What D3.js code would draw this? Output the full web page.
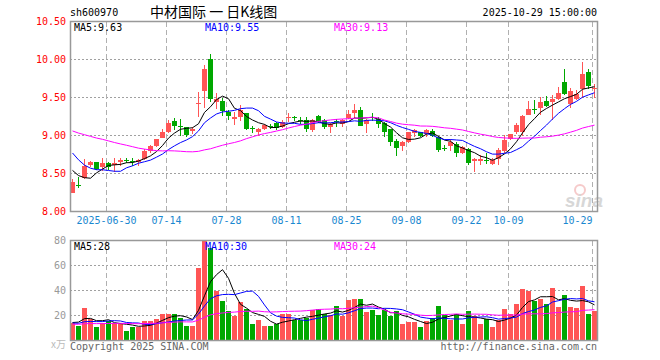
<!DOCTYPE html>
<html><head><meta charset="utf-8">
<script src="https://cdn.jsdelivr.net/npm/d3@7"></script>
<style>
html,body{margin:0;padding:0;background:#fff;}
svg{display:block;}
text{font-family:"DejaVu Sans Mono",monospace;font-size:10px;}
</style></head>
<body><svg id="c" width="660" height="360"></svg>
<script>
const dates = [
"2025-06-20","2025-06-23","2025-06-24","2025-06-25","2025-06-26","2025-06-27","2025-06-30",
"2025-07-01","2025-07-02","2025-07-03","2025-07-04","2025-07-07","2025-07-08","2025-07-09","2025-07-10","2025-07-11",
"2025-07-14","2025-07-15","2025-07-16","2025-07-17","2025-07-18","2025-07-21","2025-07-22","2025-07-23","2025-07-24","2025-07-25",
"2025-07-28","2025-07-29","2025-07-30","2025-07-31",
"2025-08-01","2025-08-04","2025-08-05","2025-08-06","2025-08-07","2025-08-08","2025-08-11","2025-08-12","2025-08-13","2025-08-14","2025-08-15",
"2025-08-18","2025-08-19","2025-08-20","2025-08-21","2025-08-22","2025-08-25","2025-08-26","2025-08-27","2025-08-28","2025-08-29",
"2025-09-01","2025-09-02","2025-09-03","2025-09-04","2025-09-05","2025-09-08","2025-09-09","2025-09-10","2025-09-11","2025-09-12",
"2025-09-15","2025-09-16","2025-09-17","2025-09-18","2025-09-19","2025-09-22","2025-09-23","2025-09-24","2025-09-25","2025-09-26",
"2025-09-29","2025-09-30",
"2025-10-09","2025-10-10","2025-10-13","2025-10-14","2025-10-15","2025-10-16","2025-10-17","2025-10-20","2025-10-21","2025-10-22","2025-10-23","2025-10-24",
"2025-10-27","2025-10-28","2025-10-29"];

const opens = [8.25,8.35,8.44,8.61,8.65,8.58,8.64,8.61,8.65,8.68,8.67,8.65,8.69,8.80,8.86,8.97,9.05,9.19,9.13,9.11,
9.06,9.42,9.58,10.00,9.44,9.45,9.31,9.22,9.25,9.29,9.10,9.05,9.09,9.13,9.17,9.11,9.23,9.24,9.21,9.21,
9.07,9.26,9.20,9.11,9.19,9.15,9.23,9.29,9.34,9.15,9.25,9.22,9.16,9.08,8.93,8.86,8.91,9.03,9.04,9.02,
9.06,8.98,8.84,8.86,8.89,8.77,8.82,8.66,8.66,8.68,8.63,8.69,8.79,8.96,9.04,9.04,9.27,9.35,9.36,9.45,
9.44,9.48,9.70,9.42,9.48,9.61,9.83,9.61];
const highs = [8.43,8.46,8.69,8.66,8.65,8.71,8.65,8.71,8.71,8.71,8.71,8.69,8.82,8.88,8.96,9.08,9.20,9.23,9.22,9.11,
9.11,9.57,9.93,10.07,9.56,9.50,9.33,9.31,9.40,9.30,9.13,9.10,9.15,9.15,9.18,9.20,9.30,9.26,9.24,9.24,
9.22,9.27,9.22,9.17,9.22,9.22,9.34,9.42,9.37,9.22,9.30,9.24,9.18,9.09,8.96,8.93,9.05,9.09,9.05,9.08,
9.08,9.00,8.87,8.95,8.92,8.86,8.83,8.70,8.74,8.77,8.70,8.83,9.01,9.02,9.16,9.27,9.45,9.47,9.51,9.52,
9.53,9.64,9.87,9.62,9.60,9.97,9.88,9.68];
const lows = [8.24,8.31,8.43,8.58,8.55,8.54,8.54,8.52,8.60,8.64,8.61,8.60,8.67,8.78,8.85,8.96,9.03,9.07,9.00,8.98,
9.02,9.24,9.36,9.44,9.35,9.26,9.20,9.14,9.19,9.07,9.04,9.00,9.07,9.09,9.08,9.10,9.18,9.20,9.15,9.04,
9.05,9.16,9.09,9.04,9.12,9.12,9.22,9.23,9.12,9.04,9.20,9.10,8.98,8.87,8.73,8.80,8.90,8.98,8.98,8.98,
8.98,8.79,8.79,8.79,8.72,8.76,8.60,8.51,8.61,8.63,8.61,8.61,8.77,8.94,9.01,8.99,9.26,9.28,9.27,9.38,
9.20,9.47,9.53,9.36,9.47,9.49,9.62,9.50];
const closes = [8.39,8.34,8.60,8.65,8.56,8.64,8.58,8.64,8.68,8.67,8.65,8.68,8.80,8.86,8.95,9.05,9.17,9.13,9.11,9.01,
9.09,9.43,9.88,9.48,9.48,9.32,9.26,9.25,9.33,9.09,9.09,9.08,9.14,9.12,9.10,9.18,9.24,9.23,9.20,9.08,
9.21,9.18,9.11,9.15,9.18,9.20,9.28,9.34,9.13,9.21,9.24,9.15,9.05,8.91,8.83,8.91,9.04,9.07,9.00,9.07,
8.99,8.81,8.83,8.92,8.77,8.85,8.64,8.69,8.69,8.67,8.68,8.81,8.94,9.02,9.14,9.26,9.35,9.34,9.44,9.39,
9.48,9.56,9.55,9.58,9.54,9.81,9.65,9.63];
const volumes = [14,11.5,26,17,10.7,14,15.6,14,13.4,8,10.7,10.7,15.3,16,17,21.5,21.5,21.5,17.7,12,
11.3,58,80,74,40,31.4,23.4,19.3,30.6,25,13.4,16.1,11.3,11.3,13.4,21,21,16.6,16.6,18.3,
24.2,25.5,21.5,20.1,27.4,19.3,32.2,33,33.6,22.8,24.2,20.1,24.7,19.3,23.4,12.9,14.5,14.5,10.7,15.3,
18,27.4,20.7,16.6,21.5,12.9,23.4,19.3,12.9,17,10.7,16.1,25,21,29,41,39.7,31.7,33.6,29,
41.9,26.6,36.2,27,26,44,21.5,24];
// sessions before the visible window (needed for the moving averages at the left edge)
const priorCloses = [9.18,9.25,9.30,9.22,9.15,9.20,9.28,9.24,9.19,9.21,9.26,9.18,9.20,
9.22,9.15,9.10,9.20,9.25,9.18,9.14,
9.24,9.30,9.05,8.76,8.645,8.68,8.74,8.685,8.21];
const priorVolumes = [12,14,11,13,12,15,12,11,13,12,14,12,11,13,12,14,13,11,12,13,
14,13,15,12,14,10,12,16,20];

const tickDates = ["2025-06-30","2025-07-14","2025-07-28","2025-08-11","2025-08-25","2025-09-08","2025-09-22","2025-10-09","2025-10-29"];
const tickLabels = ["2025-06-30","07-14","07-28","08-11","08-25","09-08","09-22","10-09","10-29"];
const priceTicks = [8.00,8.50,9.00,9.50,10.00,10.50];
const priceGrid = [8.50,9.00,9.50,10.00];
const volTicks = [20,40,60,80];
const volGrid = [20,40,60];
const maPeriods = [5,10,30];
const maColors = ["#000000","#0000ff","#ff00ff"];
const maLegendMain = ["MA5:9.63","MA10:9.55","MA30:9.13"];
const maLegendVol = ["MA5:28","MA10:30","MA30:24"];
const headerCode = "sh600970";
const headerTitle = "中材国际 一 日K线图";
const headerTime = "2025-10-29 15:00:00";

const svg = d3.select("#c");
svg.append("rect").attr("width",660).attr("height",360).attr("fill","#fff");

const L = 70, R = 598;
const x = d3.scaleBand().domain(dates).range([69, 597]);
const y = d3.scaleLinear().domain([8, 10.5]).range([211.5, 21.5]);
const yv = d3.scaleLinear().domain([0, 80]).range([340.5, 240.5]);
const RED = "#ff5555", GREEN = "#00a800";
const isUp = i => closes[i] >= opens[i];

function ma(arr, prior, n){
  const all = prior.concat(arr);
  return arr.map((_, i) => d3.mean(all.slice(i + prior.length - n + 1, i + prior.length + 1)));
}

// grid
const g = svg.append("g").attr("shape-rendering","crispEdges");
priceGrid.forEach(p => g.append("line").attr("x1",L).attr("x2",R).attr("y1",y(p)).attr("y2",y(p))
  .attr("stroke","#a0a0a0").attr("stroke-dasharray","2,2"));
volGrid.forEach(v => g.append("line").attr("x1",L).attr("x2",R).attr("y1",yv(v)).attr("y2",yv(v))
  .attr("stroke","#a0a0a0").attr("stroke-dasharray","2,2"));
tickDates.forEach(d => {
  const gx = x(d) + 1.5;
  g.append("line").attr("x1",gx).attr("x2",gx).attr("y1",21.5).attr("y2",211.5)
    .attr("stroke","#b0b0b0").attr("stroke-dasharray","5,3");
  g.append("line").attr("x1",gx).attr("x2",gx).attr("y1",240.5).attr("y2",340)
    .attr("stroke","#b0b0b0").attr("stroke-dasharray","5,3");
});

// watermark
const wm = svg.append("g").attr("opacity",0.55);
wm.append("circle").attr("cx",580).attr("cy",190).attr("r",5).attr("fill","none").attr("stroke","#f0a0a0").attr("stroke-width",2);
wm.append("text").attr("x",565).attr("y",207).attr("font-size",19).attr("font-style","italic").attr("font-weight","bold")
  .style("font-family","Arial, 'Liberation Sans', sans-serif").style("font-size","19px").attr("fill","#b8b8b8").text("sina");

// candles
const cg = svg.append("g").attr("shape-rendering","crispEdges");
dates.forEach((d, i) => {
  const col = isUp(i) ? RED : GREEN;
  cg.append("rect").attr("x", x(d) + 3).attr("width", 1)
    .attr("y", Math.round(y(highs[i]))).attr("height", Math.max(1, Math.round(y(lows[i]) - y(highs[i]))))
    .attr("fill", col);
  const top = Math.round(y(Math.max(opens[i], closes[i])));
  const bot = Math.round(y(Math.min(opens[i], closes[i])));
  cg.append("rect").attr("x", x(d) + 1).attr("width", 5)
    .attr("y", top).attr("height", Math.max(1, bot - top)).attr("fill", col);
});

// volume bars
const vg = svg.append("g").attr("shape-rendering","crispEdges");
dates.forEach((d, i) => {
  vg.append("rect").attr("x", x(d) + 1).attr("width", 5)
    .attr("y", Math.round(yv(Math.min(volumes[i], 80)))).attr("height", Math.round(yv(0) - yv(Math.min(volumes[i],80))))
    .attr("fill", isUp(i) ? RED : GREEN);
});

// MA lines
const clipM = svg.append("clipPath").attr("id","cm").append("rect").attr("x",L).attr("y",21.5).attr("width",R-L).attr("height",190);
const clipV = svg.append("clipPath").attr("id","cv").append("rect").attr("x",L).attr("y",240.5).attr("width",R-L).attr("height",100);
maPeriods.forEach((n, k) => {
  const m = ma(closes, priorCloses, n);
  svg.append("path").attr("clip-path","url(#cm)")
    .attr("d", d3.line().x((v,i) => x(dates[i]) + 3.5).y(v => y(v))(m))
    .attr("fill","none").attr("stroke", maColors[k]).attr("stroke-width",1);
  const mv = ma(volumes, priorVolumes, n);
  svg.append("path").attr("clip-path","url(#cv)")
    .attr("d", d3.line().x((v,i) => x(dates[i]) + 3.5).y(v => yv(v))(mv))
    .attr("fill","none").attr("stroke", maColors[k]).attr("stroke-width",1);
});

// borders
svg.append("rect").attr("x",70.5).attr("y",21.5).attr("width",527).attr("height",190)
  .attr("fill","none").attr("stroke","#999").attr("stroke-width",1.5);
svg.append("rect").attr("x",70.5).attr("y",240.5).attr("width",527).attr("height",100)
  .attr("fill","none").attr("stroke","#999").attr("stroke-width",1.5);

// axes
const ax = svg.append("g").attr("transform","translate(70,0)")
  .call(d3.axisLeft(y).tickValues(priceTicks).tickFormat(d3.format(".2f")).tickSize(0).tickPadding(4));
ax.select(".domain").remove();
ax.selectAll("text").attr("fill","#ff0000").style("font-family","'DejaVu Sans Mono',monospace").style("font-size","10px");

const av = svg.append("g").attr("transform","translate(70,0)")
  .call(d3.axisLeft(yv).tickValues(volTicks).tickFormat(d3.format("d")).tickSize(0).tickPadding(4));
av.select(".domain").remove();
av.selectAll("text").attr("fill","#999").style("font-family","'DejaVu Sans Mono',monospace").style("font-size","10px");

const axb = svg.append("g").attr("transform","translate(-1.5,212)")
  .call(d3.axisBottom(x).tickValues(tickDates).tickFormat((d) => tickLabels[tickDates.indexOf(d)]).tickSize(0).tickPadding(5));
axb.select(".domain").remove();
axb.selectAll("text").attr("fill","#1a88d0").style("font-family","'DejaVu Sans Mono',monospace").style("font-size","10px");
axb.selectAll("text").filter((d) => d === tickDates[tickDates.length - 1]).attr("text-anchor","end").attr("x", 0);

// legends
const legX = [74, 205, 334];
maLegendMain.forEach((t, k) => svg.append("text").attr("x", legX[k]).attr("y", 31).attr("fill", maColors[k]).text(t));
maLegendVol.forEach((t, k) => svg.append("text").attr("x", legX[k]).attr("y", 250).attr("fill", maColors[k]).text(t));

// header
svg.append("text").attr("x",70).attr("y",16).attr("fill","#000").text(headerCode);
svg.append("text").attr("x",150).attr("y",17).attr("fill","#000")
  .style("font-family","'Noto Sans CJK SC',sans-serif").style("font-size","14px").text(headerTitle);
svg.append("text").attr("x",597).attr("y",16).attr("text-anchor","end").attr("fill","#000").text(headerTime);

// footer
svg.append("text").attr("x",66).attr("y",348).attr("text-anchor","end").attr("fill","#bbb")
  .style("font-family","'Noto Sans CJK SC',sans-serif").style("font-size","10px").text("x万");
svg.append("text").attr("x",70).attr("y",350).attr("fill","#666").text("Copyright 2025 SINA.COM");
svg.append("text").attr("x",597).attr("y",350).attr("text-anchor","end").attr("fill","#666").text("http://finance.sina.com.cn");
</script></body></html>
